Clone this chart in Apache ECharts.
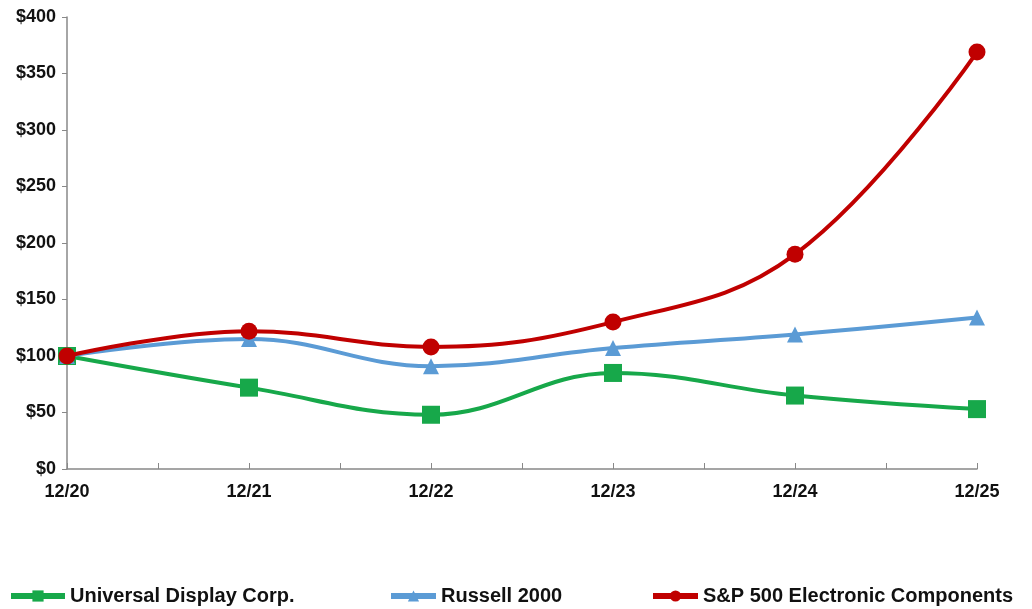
<!DOCTYPE html>
<html><head><meta charset="utf-8">
<script src="https://cdn.jsdelivr.net/npm/echarts@6/dist/echarts.min.js"></script>
<style>html,body{margin:0;padding:0;background:#fff}#c{width:1032px;height:609px}</style>
</head><body><div id="c"></div>
<script>
const categories = ['12/20','12/21','12/22','12/23','12/24','12/25'];
const udc = [100, 72, 48, 85, 65, 53];
const russell = [100, 115, 91, 107, 119, 134];
const spec = [100, 122, 108, 130, 190, 369];
const yTicks = [0, 50, 100, 150, 200, 250, 300, 350, 400];

const toPts = arr => arr.map((v, i) => [i, v]);
const chart = echarts.init(document.getElementById('c'));
const legendFont = {fontFamily: '"Liberation Sans",Arial,sans-serif', fontWeight: 'bold', fontSize: 20, color: '#111'};
const mkLegend = (name, left, w) => ({
  data: [name], left: left, top: 586, padding: 0, itemWidth: w, itemHeight: 14,
  textStyle: legendFont, selectedMode: false, itemGap: 4,
  lineStyle: {width: 6}
});
chart.setOption({
  animation: false,
  grid: {left: 67, right: 55, top: 17, bottom: 140},
  legend: [
    mkLegend('Universal Display Corp.', 8, 54),
    mkLegend('Russell 2000', 388, 45),
    mkLegend('S&P 500 Electronic Components', 650, 45)
  ],
  xAxis: {
    type: 'value', min: 0, max: categories.length - 1, interval: 0.5,
    axisLine: {lineStyle: {color: '#888', width: 1.5}},
    axisTick: {inside: true, length: 6, lineStyle: {color: '#888'}},
    splitLine: {show: false},
    axisLabel: {
      margin: 14, color: '#111', fontWeight: 'bold', fontSize: 18,
      fontFamily: '"Liberation Sans",Arial,sans-serif',
      formatter: v => Number.isInteger(v) ? categories[v] : ''
    }
  },
  yAxis: {
    type: 'value', min: yTicks[0], max: yTicks[yTicks.length - 1], interval: 50,
    axisLine: {show: true, lineStyle: {color: '#888', width: 1.5}},
    axisTick: {show: true, length: 5, lineStyle: {color: '#888'}},
    splitLine: {show: false},
    axisLabel: {
      margin: 11, color: '#111', fontWeight: 'bold', fontSize: 18,
      fontFamily: '"Liberation Sans",Arial,sans-serif',
      formatter: v => '$' + v
    }
  },
  series: [
    {name: 'Universal Display Corp.', type: 'line', data: toPts(udc), smooth: 0.4,
     symbol: 'rect', symbolSize: 18, lineStyle: {width: 4, color: '#17a84a'},
     itemStyle: {color: '#17a84a'}, z: 2},
    {name: 'Russell 2000', type: 'line', data: toPts(russell), smooth: 0.4,
     symbol: 'triangle', symbolSize: 16, lineStyle: {width: 4, color: '#5b9bd5'},
     itemStyle: {color: '#5b9bd5'}, z: 3},
    {name: 'S&P 500 Electronic Components', type: 'line', data: toPts(spec), smooth: 0.4,
     symbol: 'circle', symbolSize: 17, lineStyle: {width: 4, color: '#c00000'},
     itemStyle: {color: '#c00000'}, z: 4}
  ]
});
</script></body></html>
